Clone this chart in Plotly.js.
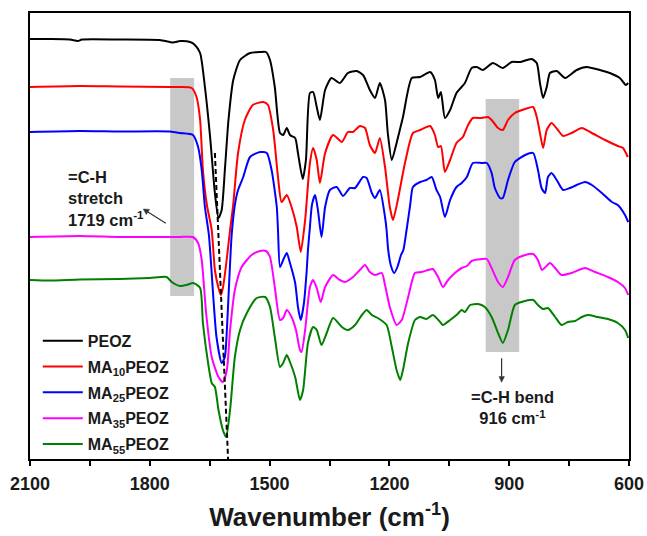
<!DOCTYPE html>
<html>
<head>
<meta charset="utf-8">
<script src="https://cdn.plot.ly/plotly-3.0.1.min.js"></script>
<style>html,body{margin:0;padding:0;background:#fff;}#chart{width:647px;height:536px;}</style>
</head>
<body>
<div id="chart"></div>
<script>
// ---- data (wavenumber in cm-1, offset transmittance in arbitrary units) ----
const seriesNames = ['PEOZ', 'MA<sub>10</sub>PEOZ', 'MA<sub>25</sub>PEOZ', 'MA<sub>35</sub>PEOZ', 'MA<sub>55</sub>PEOZ'];
const seriesColors = ['#000000', '#ff0000', '#0000ff', '#ff00ff', '#008000'];

const peozWn = [2100,2050,2000,1980,1970,1875,1775,1742,1724,1699,1687,1674,1662,1649,1637,1628,1620,1612,1603,1591,1574,1549,1524,1509,1499,1487,1474,1466,1457,1449,1436,1429,1417,1409,1399,1391,1382,1374,1361,1345,1324,1304,1282,1266,1249,1236,1224,1211,1204,1194,1182,1166,1144,1123,1098,1086,1078,1071,1061,1048,1032,1011,994,981,966,941,916,894,873,844,831,823,815,806,798,781,760,731,706,673,648,623,608,602];
const peozT = [420,420,419.5,418,419.5,419.5,419,416.5,418,417,414,406,372,322,266,241,249,289,339,379,399,406,407,407,399,372,326,324,331,324,321,306,280,299,366,367,352,339,369,381,376,386,388,384,369,361,376,359,326,299,316,342,381,382,387,379,361,367,341,349,366,376,391,392,389,396,391,397,397,400,396,376,361,372,386,388,381,389,392,389,386,381,374,376];

const ma10Wn = [2100,1975,1875,1749,1724,1695,1683,1674,1667,1657,1645,1637,1628,1622,1617,1609,1599,1591,1579,1562,1542,1516,1504,1491,1479,1470,1457,1445,1432,1422,1411,1399,1391,1382,1374,1361,1341,1319,1304,1291,1274,1261,1249,1236,1224,1211,1199,1191,1179,1161,1141,1123,1098,1086,1078,1071,1061,1048,1032,1016,1003,991,969,953,944,928,916,903,886,860,840,831,823,815,806,794,778,765,744,718,693,660,628,615,603];
const ma10T = [372,373,372.5,372,372,371,362,339,289,254,229,189,171,164,171,194,229,255,306,339,354,357,354,329,282,257,264,252,232,207,239,296,311,299,276,306,324,317,327,327,333,331,314,306,321,292,252,239,259,296,326,329,333,324,312,313,287,299,316,322,334,341,341,342,339,331,329,339,346,350,352,342,326,311,329,336,329,323,326,331,326,319,313,311,302];

const ma25Wn = [2100,1975,1875,1749,1724,1692,1679,1670,1662,1652,1641,1633,1620,1612,1607,1601,1595,1587,1579,1566,1549,1524,1507,1495,1482,1479,1474,1466,1457,1449,1436,1429,1422,1414,1407,1404,1399,1394,1386,1379,1370,1361,1349,1332,1316,1299,1286,1266,1257,1244,1236,1224,1211,1207,1203,1196,1188,1179,1171,1165,1157,1148,1141,1123,1107,1094,1082,1073,1061,1048,1032,1019,1006,991,969,956,944,936,923,916,903,886,860,840,828,819,810,803,794,781,765,748,731,710,693,668,643,628,610,602];
const ma25T = [327,328,327.5,327.5,326,324,312,289,252,224,162,122,96,102,129,179,224,254,269,282,302,307,306,289,252,229,192,199,206,196,176,152,139,156,189,209,232,254,264,249,222,252,269,272,263,271,271,282,281,266,261,269,242,229,209,193,186,193,204,209,229,254,272,277,279,282,269,262,242,259,272,276,282,296,296,296,286,271,261,261,279,297,304,306,289,271,266,282,286,279,269,271,274,277,274,266,257,254,244,237];

const ma35Wn = [2100,1975,1875,1749,1724,1692,1679,1670,1659,1645,1628,1617,1607,1599,1587,1570,1545,1524,1509,1499,1487,1474,1466,1457,1445,1434,1424,1420,1411,1399,1391,1382,1372,1361,1341,1324,1311,1291,1274,1261,1249,1236,1219,1211,1199,1182,1169,1153,1136,1119,1103,1091,1078,1066,1053,1036,1019,1006,994,969,956,944,928,916,903,886,860,840,828,818,809,798,785,769,744,710,685,653,628,610,602];
const ma35T = [222,223,222,222,222,222,216,199,146,102,82,77,89,129,169,192,204,208,208,202,172,139,141,149,142,129,109,107,129,172,179,171,157,172,184,179,177,182,189,194,187,184,186,174,152,134,139,162,186,187,189,190,182,172,179,186,191,193,198,200,200,191,177,172,182,199,204,205,199,189,192,196,191,184,186,191,187,182,177,171,164];

const ma55Wn = [2100,2050,1975,1875,1800,1758,1745,1724,1708,1691,1674,1667,1654,1645,1637,1628,1617,1609,1599,1587,1574,1557,1532,1511,1499,1487,1474,1466,1457,1449,1436,1424,1416,1404,1391,1382,1370,1357,1341,1319,1304,1286,1269,1257,1244,1229,1207,1194,1182,1173,1166,1153,1136,1123,1107,1091,1073,1066,1048,1032,1019,1011,998,978,961,944,928,916,903,886,869,840,828,815,803,785,769,753,735,718,703,678,653,628,610,602];
const ma55T = [179,178.5,179.5,180,181,182,177,173,174,176,171,136,96,76,72,49,29,22,49,102,129,146,161,162,152,122,92,96,104,97,82,59,69,116,132,129,114,126,141,132,129,134,144,149,144,141,134,112,89,79,89,116,139,142,140,144,137,134,139,144,149,147,154,155,152,142,126,116,129,154,157,159,154,150,151,142,134,137,138,142,144,142,140,136,129,121];

const xMajorTicks = [2100,1800,1500,1200,900,600];
const xMinorTicks = [1950,1650,1350,1050,750];

// highlighted bands and markers (cm-1)
const stretchBand = [1749, 1689];
const bendBand = [959, 875];
const amideShift = [1637, 1604];
const stretchLabel = '=C-H<br>stretch<br>1719 cm<sup>-1</sup>';
const bendLabel = '=C-H bend<br>916 cm<sup>-1</sup>';

const wnSets = [peozWn, ma10Wn, ma25Wn, ma35Wn, ma55Wn];
const tSets = [peozT, ma10T, ma25T, ma35T, ma55T];

const FONT = "'Liberation Sans', Arial, sans-serif";
const TXT = '#1a1a1a';
const ARROW = '#333333';

const traces = seriesNames.map((n, i) => ({
  type: 'scatter', mode: 'lines', name: n,
  x: wnSets[i], y: tSets[i],
  legendgroup: 'g' + i,
  line: {color: seriesColors[i], width: 2, shape: 'spline', smoothing: 0.6},
  hoverinfo: 'skip'
}));

// arrow = shaft line + small filled head (annotation graphics)
function arrowShapes(tail, base, tip, c1, c2) {
  return [
    {type: 'line', xref: 'x', yref: 'y', x0: tail[0], y0: tail[1], x1: base[0], y1: base[1], line: {color: ARROW, width: 1.2}, layer: 'above'},
    {type: 'path', xref: 'x', yref: 'y', path: `M${tip[0]},${tip[1]} L${c1[0]},${c1[1]} L${c2[0]},${c2[1]} Z`, fillcolor: ARROW, line: {color: ARROW, width: 0.5}, layer: 'above'}
  ];
}

const labelFont = {family: FONT, size: 16.5, weight: 'bold', color: TXT};

const layout = {
  width: 647, height: 536,
  margin: {l: 30, r: 18, t: 13, b: 77},
  paper_bgcolor: '#ffffff', plot_bgcolor: '#ffffff',
  font: {family: FONT, color: TXT},
  showlegend: true,
  legend: {
    x: 0.013, y: 0.303, xanchor: 'left', yanchor: 'top',
    bgcolor: 'rgba(0,0,0,0)', borderwidth: 0,
    font: {family: FONT, size: 16, weight: 'bold', color: TXT},
    tracegroupgap: 2, itemwidth: 40
  },
  xaxis: {
    range: [2100, 600], autorange: false,
    showline: true, linecolor: '#000', linewidth: 2, mirror: true,
    tickmode: 'array', tickvals: xMajorTicks,
    ticks: 'outside', ticklen: 5, tickwidth: 2, tickcolor: '#000',
    ticklabelstandoff: 2,
    minor: {tickmode: 'array', tickvals: xMinorTicks, ticks: 'outside', ticklen: 5, tickwidth: 2, tickcolor: '#000', showgrid: false},
    tickfont: {family: FONT, size: 18, weight: 'bold', color: TXT},
    showgrid: false, zeroline: false,
    title: {text: 'Wavenumber (cm<sup>-1</sup>)', font: {family: FONT, size: 26, weight: 'bold', color: TXT}, standoff: 15}
  },
  yaxis: {
    range: [0, 446], autorange: false,
    showline: true, linecolor: '#000', linewidth: 2, mirror: true,
    ticks: '', showticklabels: false, showgrid: false, zeroline: false
  },
  shapes: [
    {type: 'rect', xref: 'x', yref: 'y', x0: stretchBand[0], x1: stretchBand[1], y0: 163, y1: 381, fillcolor: '#c8c8c8', line: {width: 0}, layer: 'below'},
    {type: 'rect', xref: 'x', yref: 'y', x0: bendBand[0], x1: bendBand[1], y0: 107, y1: 360, fillcolor: '#c8c8c8', line: {width: 0}, layer: 'below'},
    {type: 'line', xref: 'x', yref: 'y', x0: amideShift[0], y0: 306, x1: amideShift[1], y1: 0, line: {color: '#000', width: 2, dash: '5px,3px'}, layer: 'above'}
  ].concat(
    arrowShapes([1760, 235.7], [1804.7, 247.0], [1816.3, 250], [1800.6, 249.6], [1808.7, 244.5]),
    arrowShapes([919, 100.7], [919, 82.4], [919, 76.7], [925.5, 82.4], [912.0, 82.4])
  ),
  annotations: [
    {xref: 'x', yref: 'y', x: 2010, y: 261, xanchor: 'left', yanchor: 'middle', align: 'left', showarrow: false,
     text: stretchLabel, font: labelFont},
    {xref: 'x', yref: 'y', x: 892, y: 52, xanchor: 'center', yanchor: 'middle', align: 'center', showarrow: false,
     text: bendLabel, font: labelFont}
  ]
};

Plotly.newPlot('chart', traces, layout, {displayModeBar: false, staticPlot: true});
</script>
</body>
</html>
